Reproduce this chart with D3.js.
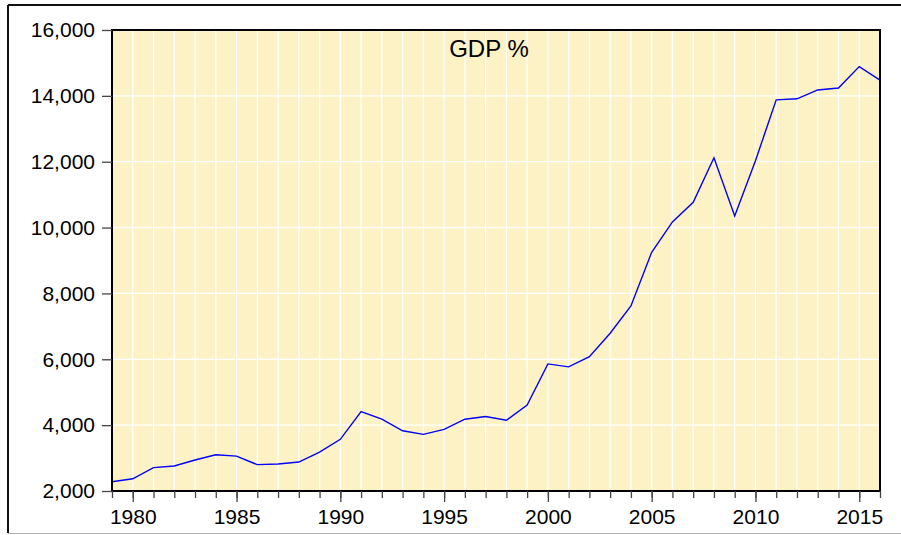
<!DOCTYPE html>
<html>
<head>
<meta charset="utf-8">
<script src="https://cdn.jsdelivr.net/npm/d3@7"></script>
<style>
    body { margin: 0; background: #fff; }
    svg { display: block; font-family: "Liberation Sans", Arial, sans-serif; }
</style>
</head>
<body>
<svg id="chart"></svg>
<script>
// data
const years = [1979, 1980, 1981, 1982, 1983, 1984, 1985, 1986, 1987, 1988,
    1989, 1990, 1991, 1992, 1993, 1994, 1995, 1996, 1997, 1998,
    1999, 2000, 2001, 2002, 2003, 2004, 2005, 2006, 2007, 2008,
    2009, 2010, 2011, 2012, 2013, 2014, 2015, 2016];
const gdp = [2280, 2370, 2710, 2760, 2940, 3100, 3060, 2800, 2820, 2880,
    3180, 3570, 4410, 4180, 3830, 3720, 3870, 4180, 4260, 4150,
    4610, 5860, 5770, 6080, 6790, 7620, 9250, 10170, 10770, 12120,
    10350, 12030, 13880, 13910, 14180, 14240, 14890, 14480];
const yTicks = [2000, 4000, 6000, 8000, 10000, 12000, 14000, 16000];
const xLabels = [1980, 1985, 1990, 1995, 2000, 2005, 2010, 2015];
const title = 'GDP %';

class LineChart {
    constructor (config, data) {
        this.config = {
            parent: config.parent,
            width: config.width || 256,
            height: config.height || 256,
            margin: config.margin || {top:10, right:10, bottom:10, left:10}
        };
        this.data = data;
        this.init();
    }

    init() {
        let self = this;

        self.svg = d3.select(self.config.parent)
            .attr('width', self.config.width)
            .attr('height', self.config.height);

        // outer frame
        self.svg.append('line')
            .attr('x1', 8).attr('y1', 5).attr('x2', 8).attr('y2', 533)
            .attr('stroke', '#111').attr('stroke-width', 2);
        self.svg.append('line')
            .attr('x1', 8).attr('y1', 5).attr('x2', self.config.width).attr('y2', 5)
            .attr('stroke', '#111').attr('stroke-width', 2);
        self.svg.append('line')
            .attr('x1', 8).attr('y1', 533.5).attr('x2', self.config.width).attr('y2', 533.5)
            .attr('stroke', '#b4b4b4').attr('stroke-width', 1);

        self.chart = self.svg.append('g')
            .attr('transform', `translate(${self.config.margin.left}, ${self.config.margin.top})`);

        self.inner_width = self.config.width - self.config.margin.left - self.config.margin.right;
        self.inner_height = self.config.height - self.config.margin.top - self.config.margin.bottom;

        self.xscale = d3.scaleLinear()
            .domain([1979, 2016])
            .range([0, self.inner_width]);

        self.yscale = d3.scaleLinear()
            .domain([2000, 16000])
            .range([self.inner_height, 0]);

        self.chart.append('rect')
            .attr('width', self.inner_width)
            .attr('height', self.inner_height)
            .attr('fill', '#fcf2c5');

        self.grid = self.chart.append('g');
        self.line_group = self.chart.append('g');

        self.chart.append('rect')
            .attr('width', self.inner_width)
            .attr('height', self.inner_height)
            .attr('fill', 'none')
            .attr('stroke', '#000')
            .attr('stroke-width', 2);

        self.xaxis_minor = d3.axisBottom(self.xscale)
            .tickValues(self.data.map(d => d.year))
            .tickSize(7)
            .tickSizeOuter(0)
            .tickFormat('');

        self.xaxis = d3.axisBottom(self.xscale)
            .tickValues(xLabels)
            .tickSize(11)
            .tickSizeOuter(0)
            .tickPadding(7)
            .tickFormat(d3.format('d'));

        self.yaxis = d3.axisLeft(self.yscale)
            .tickValues(yTicks)
            .tickSize(10)
            .tickSizeOuter(0)
            .tickPadding(7)
            .tickFormat(d3.format(','));

        self.xaxis_minor_group = self.chart.append('g')
            .attr('transform', `translate(0, ${self.inner_height})`);
        self.xaxis_group = self.chart.append('g')
            .attr('transform', `translate(0, ${self.inner_height})`);
        self.yaxis_group = self.chart.append('g');

        self.svg.append('text')
            .attr('x', 489)
            .attr('y', 56.5)
            .attr('text-anchor', 'middle')
            .style('font-size', '24px')
            .attr('fill', '#000')
            .text(title);
    }

    render() {
        let self = this;

        self.grid.selectAll('.vgrid')
            .data(self.data.slice(1, -1))
            .join('line')
            .attr('class', 'vgrid')
            .attr('x1', d => self.xscale(d.year))
            .attr('x2', d => self.xscale(d.year))
            .attr('y1', 0)
            .attr('y2', self.inner_height)
            .attr('stroke', '#fff')
            .attr('stroke-width', 1.3);

        self.grid.selectAll('.hgrid')
            .data(yTicks.slice(1, -1))
            .join('line')
            .attr('class', 'hgrid')
            .attr('x1', 0)
            .attr('x2', self.inner_width)
            .attr('y1', d => self.yscale(d))
            .attr('y2', d => self.yscale(d))
            .attr('stroke', '#fff')
            .attr('stroke-width', 1.3);

        const line = d3.line()
            .x(d => self.xscale(d.year))
            .y(d => self.yscale(d.value));

        self.line_group.append('path')
            .datum(self.data)
            .attr('d', line)
            .attr('fill', 'none')
            .attr('stroke', '#0000ff')
            .attr('stroke-width', 1.4);

        self.xaxis_minor_group.call(self.xaxis_minor);
        self.xaxis_group.call(self.xaxis);
        self.yaxis_group.call(self.yaxis);

        self.chart.selectAll('.domain').remove();
        self.chart.selectAll('.tick line')
            .attr('stroke', '#444')
            .attr('stroke-width', 1.3);
        self.chart.selectAll('.tick text')
            .attr('fill', '#000')
            .style('font-size', '21px')
            .style('font-family', '"Liberation Sans", Arial, sans-serif');
    }
}

const data = years.map((y, i) => ({year: y, value: gdp[i]}));

const chart = new LineChart({
    parent: '#chart',
    width: 901,
    height: 535,
    margin: {top: 30, right: 21, bottom: 44, left: 112}
}, data);
chart.render();
</script>
</body>
</html>
